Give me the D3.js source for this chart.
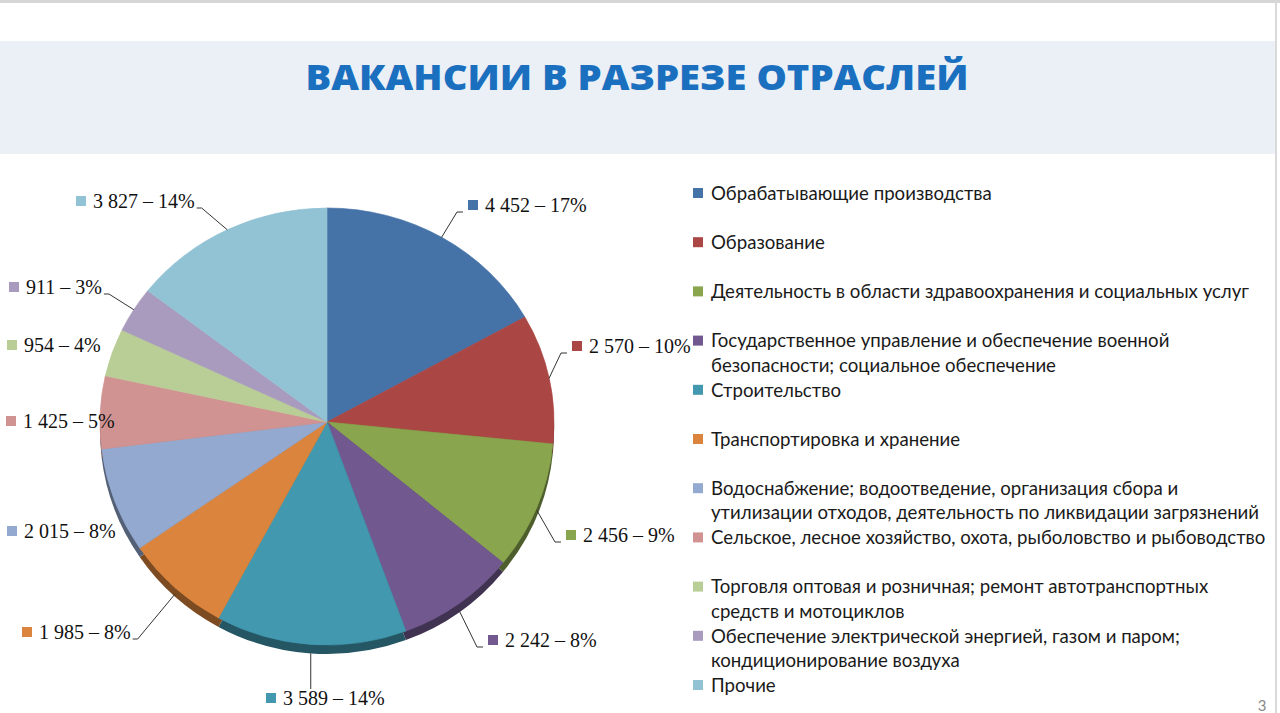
<!DOCTYPE html>
<html>
<head>
<meta charset="utf-8">
<script src="https://cdn.jsdelivr.net/npm/d3@7"></script>
<style>
  html, body { margin: 0; padding: 0; background: #fff; }
  svg { display: block; }
</style>
</head>
<body>
<div id="chart"></div>
<script>
// data
const categories = [
  "Обрабатывающие производства",
  "Образование",
  "Деятельность в области здравоохранения и социальных услуг",
  "Государственное управление и обеспечение военной безопасности; социальное обеспечение",
  "Строительство",
  "Транспортировка и хранение",
  "Водоснабжение; водоотведение, организация сбора и утилизации отходов, деятельность по ликвидации загрязнений",
  "Сельское, лесное хозяйство, охота, рыболовство и рыбоводство",
  "Торговля оптовая и розничная; ремонт автотранспортных средств и мотоциклов",
  "Обеспечение электрической энергией, газом и паром; кондиционирование воздуха",
  "Прочие"
]
const legendLines = [
  ["Обрабатывающие производства"],
  ["Образование"],
  ["Деятельность в области здравоохранения и социальных услуг"],
  ["Государственное управление и обеспечение военной", "безопасности; социальное обеспечение"],
  ["Строительство"],
  ["Транспортировка и хранение"],
  ["Водоснабжение; водоотведение, организация сбора и", "утилизации отходов, деятельность по ликвидации загрязнений"],
  ["Сельское, лесное хозяйство, охота, рыболовство и рыбоводство"],
  ["Торговля оптовая и розничная; ремонт автотранспортных", "средств и мотоциклов"],
  ["Обеспечение электрической энергией, газом и паром;", "кондиционирование воздуха"],
  ["Прочие"]
]
const values = [4452, 2570, 2456, 2242, 3589, 1985, 2015, 1425, 954, 911, 3827]
const colors = ["#4572a7", "#aa4643", "#89a54e", "#71588f", "#4198af", "#db843d",
                "#93a9cf", "#d19392", "#b9cd96", "#a99bbd", "#92c3d4"]
const title = "ВАКАНСИИ В РАЗРЕЗЕ ОТРАСЛЕЙ"

// label layout: [square left x, square centre y, side, has leader]
const labelLayout = [
  [468, 205, "right", true],
  [572, 346, "right", true],
  [566, 535, "right", true],
  [488, 640, "right", true],
  [266, 698, "bottom", true],
  [22, 632, "left", true],
  [7, 531, "left", false],
  [6, 421, "left", false],
  [7, 345, "left", false],
  [9, 287, "left", true],
  [76, 201, "left", true]
]

const config = {
  width: 1280,
  height: 713,
  cx: 327,
  cy: 422,
  rx: 227,
  ryTop: 214,
  ryBottom: 223,
  depth: 9,
  legendX: 693,
  legendY: 193,
  legendRow: 24.6,
  legendWidth: 555
}

const total = d3.sum(values)
const ru = d3.formatLocale({decimal: ",", thousands: " ", grouping: [3], currency: ["", ""]})
const fmt = ru.format(",d")

const svg = d3.select("#chart").append("svg")
    .attr("width", config.width)
    .attr("height", config.height)

// slide frame
svg.append("rect").attr("x", 0).attr("y", 0).attr("width", config.width).attr("height", 3).attr("fill", "#d6d6d6")
svg.append("rect").attr("x", 1275).attr("y", 0).attr("width", 2).attr("height", config.height).attr("fill", "#d9d9d9")
svg.append("rect").attr("x", 0).attr("y", 41).attr("width", 1275).attr("height", 113).attr("fill", "#ebf0f7")

const titleText = svg.append("text")
    .attr("x", 637)
    .attr("y", 90)
    .attr("text-anchor", "middle")
    .attr("font-family", "'Open Sans', sans-serif")
    .attr("font-weight", 800)
    .attr("font-size", 35)
    .attr("fill", "#1a6fbf")
    .text(title)
titleText.attr("textLength", 663).attr("lengthAdjust", "spacingAndGlyphs")

// pie
const R = 100
const pie = d3.pie().sort(null).value(d => d)
const arcs = pie(values)
const arc = d3.arc().innerRadius(0).outerRadius(R)

const defs = svg.append("defs")
defs.append("clipPath").attr("id", "clip-top")
  .append("rect").attr("x", -400).attr("y", -400).attr("width", 800).attr("height", 400)
defs.append("clipPath").attr("id", "clip-bottom")
  .append("rect").attr("x", -400).attr("y", 0).attr("width", 800).attr("height", 400)

const pieRoot = svg.append("g")
    .attr("transform", `translate(${config.cx},${config.cy})`)

// front (lower) half is drawn a bit taller, like the perspective of the 3D pie
const bottomHalf = pieRoot.append("g").attr("clip-path", "url(#clip-bottom)")
bottomHalf.append("g")
    .attr("transform", `translate(0,${config.depth}) scale(${config.rx / R},${config.ryBottom / R})`)
  .selectAll("path")
  .data(arcs)
  .join("path")
    .attr("d", arc)
    .attr("fill", (d, i) => d3.color(colors[i]).darker(1.6))
bottomHalf.append("g")
    .attr("transform", `scale(${config.rx / R},${config.ryBottom / R})`)
  .selectAll("path")
  .data(arcs)
  .join("path")
    .attr("d", arc)
    .attr("fill", (d, i) => colors[i])
    .attr("stroke", (d, i) => colors[i])
    .attr("stroke-width", 0.3)

pieRoot.append("g").attr("clip-path", "url(#clip-top)")
  .append("g")
    .attr("transform", `scale(${config.rx / R},${config.ryTop / R})`)
  .selectAll("path")
  .data(arcs)
  .join("path")
    .attr("d", arc)
    .attr("fill", (d, i) => colors[i])
    .attr("stroke", (d, i) => colors[i])
    .attr("stroke-width", 0.3)

// point on the rim for a given angle, including the side wall at the front
function rimPoint (a) {
  const s = Math.sin(a)
  const c = Math.cos(a)
  const ry = c > 0 ? config.ryTop : config.ryBottom
  const y = config.cy - ry * c + (c < 0 ? config.depth * -c : 0)
  return [config.cx + config.rx * s, y]
}

// data labels
const labels = svg.append("g")
    .attr("font-family", "'Liberation Serif', 'Times New Roman', serif")
    .attr("font-size", 20)
    .attr("fill", "#111")

arcs.forEach((d, i) => {
  const [sx, cyL, side, hasLeader] = labelLayout[i]
  const g = labels.append("g")
  g.append("rect")
      .attr("x", sx).attr("y", cyL - 5)
      .attr("width", 10).attr("height", 10)
      .attr("fill", colors[i])
  const t = g.append("text")
      .attr("x", sx + 17)
      .attr("y", cyL + 7)
      .text(`${fmt(values[i])} – ${Math.round(values[i] / total * 100)}%`)
  if (!hasLeader) return
  const mid = (d.startAngle + d.endAngle) / 2
  const p0 = rimPoint(mid)
  let pts
  if (side === "right") {
    pts = [p0, [sx - 11, cyL + 7], [sx - 5, cyL + 7]]
  } else if (side === "left") {
    const end = sx + 17 + t.node().getComputedTextLength()
    pts = [p0, [end + 7, cyL + 7], [end + 2, cyL + 7]]
  } else {
    pts = [p0, [p0[0], cyL - 9]]
  }
  svg.append("path")
      .attr("d", d3.line()(pts))
      .attr("fill", "none")
      .attr("stroke", "#333")
      .attr("stroke-width", 1)
})

// legend
const legend = svg.append("g")
    .attr("font-family", "Lato, 'Open Sans', sans-serif")
    .attr("fill", "#1a1a1a")

const legendItems = legend.selectAll("g")
  .data(legendLines)
  .join("g")
    .attr("transform", (d, i) => `translate(${config.legendX},${config.legendY + i * 2 * config.legendRow})`)

legendItems.append("rect")
    .attr("x", 0).attr("y", -5)
    .attr("width", 10).attr("height", 10)
    .attr("fill", (d, i) => colors[i])

const legendTexts = legendItems.selectAll("text")
  .data(d => d)
  .join("text")
    .attr("x", 18)
    .attr("y", (d, j) => j * config.legendRow)
    .attr("dy", "0.36em")
    .attr("font-size", 18)
    .text(d => d)

// fit legend font so the widest line matches the slide
const widest = d3.max(legendTexts.nodes(), n => n.getComputedTextLength())
legendTexts.attr("font-size", 18 * config.legendWidth / widest)

svg.append("text")
    .attr("x", 1262).attr("y", 711)
    .attr("text-anchor", "middle")
    .attr("font-family", "Lato, sans-serif")
    .attr("font-size", 15)
    .attr("fill", "#8a8a8a")
    .text("3")
</script>
</body>
</html>
